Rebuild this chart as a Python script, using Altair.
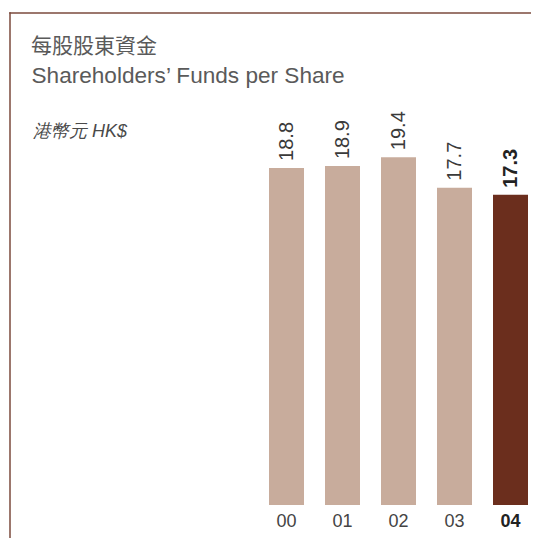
import altair as alt
import pandas as pd

years = ["00", "01", "02", "03", "04"]
values = [18.8, 18.9, 19.4, 17.7, 17.3]
labels = ["18.8", "18.9", "19.4", "17.7", "17.3"]
highlight = "04"

title_zh = "每股股東資金"
title_en = "Shareholders\u2019 Funds per Share"
unit_text = "港幣元 HK$"

df = pd.DataFrame({"year": years, "value": values, "label": labels})

FONT = "Liberation Sans"
LIGHT = "#c8ac9c"
DARK = "#6b2e1d"
FRAME = "#7b4a3c"

xscale = alt.Scale(domain=years, range=[250.5, 530.5], paddingInner=0.375, paddingOuter=0.1875)
yscale = alt.Scale(domain=[0, 20], range=[497, 138.4])

is_hl = alt.datum.year == highlight
not_hl = alt.datum.year != highlight

base = alt.Chart(df)
X = alt.X("year:N", scale=xscale, axis=None)
Y = alt.Y("value:Q", scale=yscale, axis=None)

bars = base.mark_bar().encode(
    x=X, y=Y,
    color=alt.condition(is_hl, alt.value(DARK), alt.value(LIGHT)),
)

vlabels = base.transform_filter(not_hl).mark_text(
    angle=270, align="left", baseline="middle", dx=7, fontSize=20, font=FONT, color="#3a3a3a"
).encode(x=X, y=Y, text="label:N")

vlabels_hl = base.transform_filter(is_hl).mark_text(
    angle=270, align="left", baseline="middle", dx=7, fontSize=20, font=FONT, fontWeight="bold", color="#222222"
).encode(x=X, y=Y, text="label:N")

xlabels = base.transform_filter(not_hl).mark_text(
    align="center", baseline="middle", fontSize=18, font=FONT, color="#444444"
).encode(x=X, y=alt.value(514), text="year:N")

xlabels_hl = base.transform_filter(is_hl).mark_text(
    align="center", baseline="middle", fontSize=18, font=FONT, fontWeight="bold", color="#222222"
).encode(x=X, y=alt.value(514), text="year:N")

t1 = alt.Chart(pd.DataFrame({"t": [title_zh]})).mark_text(
    align="left", baseline="middle", fontSize=21, font="Noto Sans CJK TC", color="#5a5a5a"
).encode(x=alt.value(23), y=alt.value(38.5), text="t:N")
t2 = alt.Chart(pd.DataFrame({"t": [title_en]})).mark_text(
    align="left", baseline="middle", fontSize=22.6, font=FONT, color="#5a5a5a"
).encode(x=alt.value(23.5), y=alt.value(68), text="t:N")
t3 = alt.Chart(pd.DataFrame({"t": [unit_text]})).mark_text(
    align="left", baseline="middle", fontSize=18, font=FONT, fontStyle="italic", color="#4a4a4a"
).encode(x=alt.value(25), y=alt.value(123.5), text="t:N")

frame_v = alt.Chart(pd.DataFrame({"a": [0]})).mark_rect(color=FRAME).encode(
    x=alt.value(1.25), x2=alt.value(2.75), y=alt.value(4.25), y2=alt.value(530)
)
frame_h = alt.Chart(pd.DataFrame({"a": [0]})).mark_rect(color=FRAME).encode(
    x=alt.value(1.25), x2=alt.value(523), y=alt.value(4.25), y2=alt.value(5.75)
)

chart = alt.layer(
    frame_v, frame_h, t1, t2, t3, bars, vlabels, vlabels_hl, xlabels, xlabels_hl
).properties(
    width=523, height=530, padding=0, autosize=alt.AutoSizeParams(type="none")
).configure_view(stroke="transparent", strokeWidth=0)

chart.save("out.html", embed_options={"renderer": "svg", "actions": False})
